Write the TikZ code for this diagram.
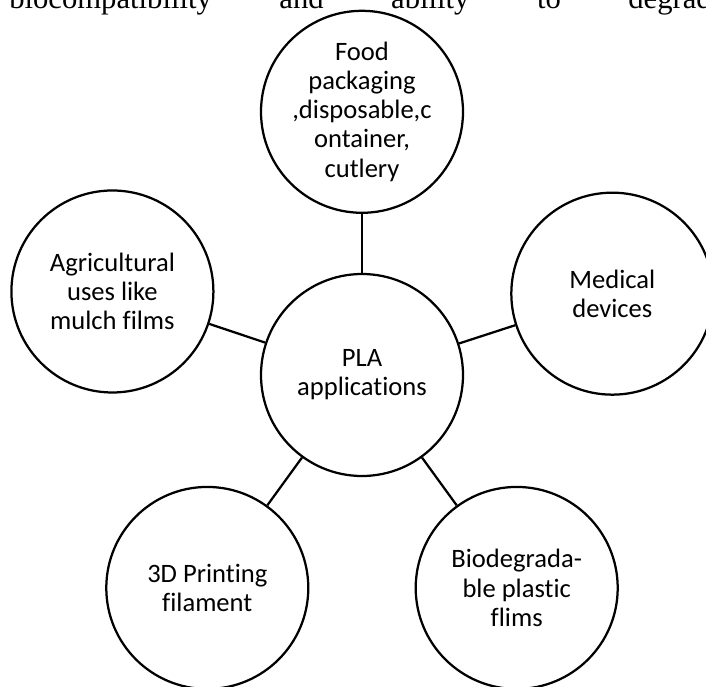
\documentclass[tikz,border=0pt]{standalone}
\usepackage{fontspec}
\setmainfont{Carlito}[Ligatures=NoCommon]
\newfontfamily\bodyfont{Liberation Serif}
\usetikzlibrary{positioning}
\tikzset{
  node distance=6.58cm, % centre to centre distance from the hub to each bubble
  every node/.style={font=\fontsize{18.9}{20.7}\selectfont}, % text inside the bubbles
  bubble/.style={circle, draw, line width=1.6pt, minimum size=5.05cm, inner sep=0pt, align=center}, % the round boxes
  every edge/.style={draw, line width=1.6pt}, % the plain connecting lines
}

\begin{document}
\begin{tikzpicture}
    % cut the page to the figure
    \clip (-9.05,-7.775) rectangle (8.6,9.375);

    % last line of the paragraph above
    \node[anchor=base west, inner sep=0pt, font=\bodyfont\fontsize{21.8}{26}\selectfont] (txt) at (-8.825,9.15)
        {\hbox to 17.9cm{biocompatibility\hfill and\hfill ability\hfill to\hfill degrade}};

    \node[bubble] (0) {PLA\\applications};
    \node[bubble, above of=0] (1) {Food\\packaging\\,disposable,c\\ontainer,\\cutlery};
    \node[bubble] (2) at (18:6.58) {Medical\\devices};
    \node[bubble] (3) at (306:6.58) {Biodegrada-\\ble plastic\\flims};
    \node[bubble] (4) at (234:6.58) {3D Printing\\filament};
    \node[bubble] (5) at (161.5:6.58) {Agricultural\\uses like\\mulch films};

    \draw (0) edge (1)
    (0) edge (2)
    (0) edge (3)
    (0) edge (4)
    (0) edge (5);

\end{tikzpicture}
\end{document}
